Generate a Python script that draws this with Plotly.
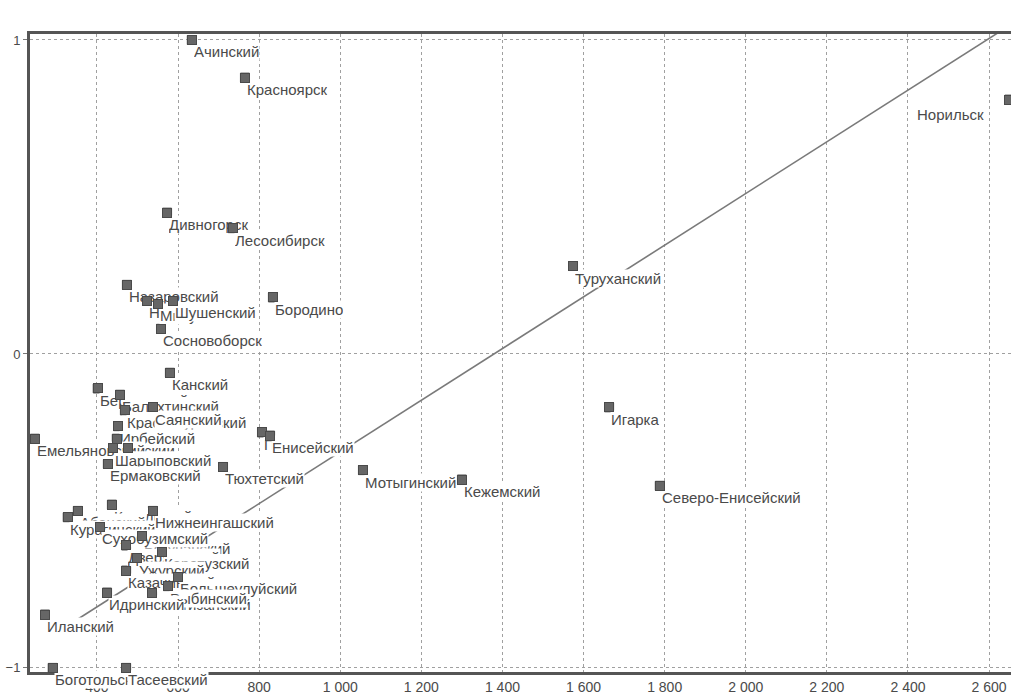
import plotly.graph_objects as go

# Districts and cities (drawing order: later labels overwrite earlier ones)
names = [
    "Норильск", "Ачинский", "Красноярск", "Дивногорск", "Лесосибирск",
    "Туруханский", "Назаровский", "Новоселовский", "Минусинский", "Шушенский",
    "Бородино", "Сосновоборск", "Канский", "Березовский", "Балахтинский",
    "Краснотуранский", "Саянский", "Уярский", "Ирбейский", "Емельяновский",
    "Манский", "Шарыповский", "Ермаковский", "Пировский", "Енисейский",
    "Тюхтетский", "Мотыгинский", "Кежемский", "Игарка", "Северо-Енисейский",
    "Козульский", "Абанский", "Курагинский", "Нижнеингашский", "Богучанский",
    "Сухобузимский", "Дзержинский", "Каратузский", "Ужурский", "Казачинский",
    "Партизанский", "Большеулуйский", "Рыбинский", "Идринский", "Иланский",
    "Боготольский", "Тасеевский",
]
x_values = [
    2650, 634, 765, 573, 735,
    1574, 474, 523, 550, 587,
    834, 558, 580, 402, 457,
    469, 538, 449, 452, 247,
    476, 439, 427, 807, 827,
    711, 1056, 1300, 1663, 1788,
    437, 353, 328, 538, 511,
    407, 472, 560, 499, 472,
    536, 600, 575, 425, 272,
    291, 472,
]
y_values = [
    0.81, 1.00, 0.88, 0.45, 0.40,
    0.28, 0.22, 0.17, 0.16, 0.17,
    0.18, 0.08, -0.06, -0.11, -0.13,
    -0.18, -0.17, -0.27, -0.23, -0.27,
    -0.30, -0.30, -0.35, -0.25, -0.26,
    -0.36, -0.37, -0.40, -0.17, -0.42,
    -0.48, -0.50, -0.52, -0.50, -0.58,
    -0.55, -0.61, -0.63, -0.65, -0.69,
    -0.76, -0.71, -0.74, -0.76, -0.83,
    -1.00, -1.00,
]

# Linear trend: y = intercept + slope * x
trend_slope = 0.000823
trend_intercept = -1.135
trend_x = [304, 2620]

x_ticks = [400, 600, 800, 1000, 1200, 1400, 1600, 1800, 2000, 2200, 2400, 2600]
y_ticks = [-1, 0, 1]

FONT = "Liberation Sans, Arial, sans-serif"
label_font = dict(family=FONT, size=15, color="#4a4a4a")
MARK_FILL = "#666666"
MARK_EDGE = "#4a4a4a"

fig = go.Figure()

fig.add_trace(go.Scatter(
    x=trend_x,
    y=[trend_intercept + trend_slope * v for v in trend_x],
    mode="lines",
    line=dict(color="#7a7a7a", width=1.6),
    hoverinfo="skip",
    showlegend=False,
))

fig.add_trace(go.Scatter(
    x=x_values, y=y_values, mode="markers",
    marker=dict(symbol="square", size=9, color=MARK_FILL,
                line=dict(color=MARK_EDGE, width=1)),
    text=names, hoverinfo="text", showlegend=False,
))

# Labels sit on opaque white boxes so that a later label hides the one beneath it
annotations = []
for name, xv, yv in zip(names, x_values, y_values):
    right_side = name == "Норильск"
    annotations.append(dict(
        x=xv, y=yv, text=name, showarrow=False,
        xanchor="right" if right_side else "left", yanchor="middle",
        xshift=-24 if right_side else 1, yshift=-15 if right_side else -12,
        font=label_font, bgcolor="white", borderpad=0, height=17,
    ))

# Square point symbols repeated on top of the label boxes
for xv, yv in zip(x_values, y_values):
    annotations.append(dict(
        x=xv, y=yv, text=" ", showarrow=False,
        xanchor="center", yanchor="middle",
        width=8, height=8, borderpad=0, borderwidth=1,
        bgcolor=MARK_FILL, bordercolor=MARK_EDGE,
        font=dict(size=1),
    ))

fig.update_layout(
    width=1011, height=694,
    margin=dict(l=30, r=0, t=34, b=22),
    paper_bgcolor="white", plot_bgcolor="white",
    separators=", ",
    annotations=annotations,
    xaxis=dict(
        range=[235, 2654], tickvals=x_ticks, tickformat=",d",
        showgrid=True, gridcolor="#a0a0a0", griddash="dot", gridwidth=1,
        showline=True, linecolor="#555555", linewidth=3, mirror=True,
        ticks="", zeroline=False, automargin=False,
        tickfont=dict(family=FONT, size=14, color="#4a4a4a"),
    ),
    yaxis=dict(
        range=[-1.013, 1.019], tickvals=y_ticks,
        showgrid=True, gridcolor="#a0a0a0", griddash="dot", gridwidth=1,
        showline=True, linecolor="#555555", linewidth=3,
        ticks="outside", ticklen=4, tickcolor="#777777", zeroline=False,
        automargin=False,
        tickfont=dict(family=FONT, size=13, color="#4a4a4a"),
    ),
)

fig.write_html("out.html")
